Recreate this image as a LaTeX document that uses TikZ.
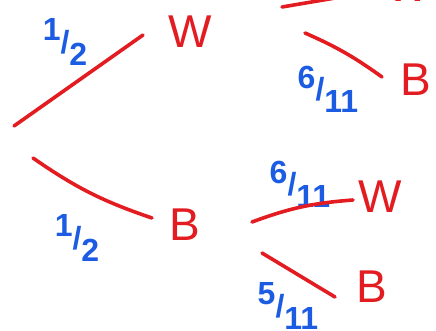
\documentclass[tikz,border=0pt]{standalone}
\usepackage{fontspec}
\setmainfont{Liberation Sans}
\usetikzlibrary{positioning}

\definecolor{inkred}{RGB}{226,28,32}
\definecolor{inkblue}{RGB}{28,92,226}
\newcommand{\slfrac}[2]{\raisebox{0.38em}{#1}/\raisebox{-0.38em}{#2}}

\begin{document}
\begin{tikzpicture}[
    x=1pt, y=-1pt,
    outcome/.style={text=inkred, font=\fontsize{46}{46}\selectfont, inner sep=0pt},
    prob/.style={text=inkblue, font=\fontsize{32}{32}\selectfont\bfseries, inner sep=0pt},
    branch/.style={draw=inkred, line width=3.6pt, line cap=round}
]
    \useasboundingbox (0,0) rectangle (436,330);

    % Outcomes
    \node[outcome] (w) at (190,32) {W};
    \node[outcome] (b) at (185,225) {B};
    \node[outcome] (ww) at (408,-14) {W};
    \node[outcome] (wb) at (416,80) {B};
    \node[outcome] (bw) at (380,197) {W};
    \node[outcome] (bb) at (372,287) {B};

    % Probabilities
    \node[prob] (pw) at (65,42) {\slfrac{1}{2}};
    \node[prob] (pb) at (77,238) {\slfrac{1}{2}};
    \node[prob] (pwb) at (328,89) {\slfrac{6}{11}};
    \node[prob] (pbw) at (300,184) {\slfrac{6}{11}};
    \node[prob] (pbb) at (288,306) {\slfrac{5}{11}};

    % Branch ends
    \coordinate (r1) at (14,126);
    \coordinate (w1) at (143,35);
    \coordinate (r2) at (33,158);
    \coordinate (b1) at (152,218);
    \coordinate (w2) at (282,7);
    \coordinate (ww1) at (335,-2);
    \coordinate (w3) at (305,33);
    \coordinate (wb1) at (382,77);
    \coordinate (b2) at (252,222);
    \coordinate (bw1) at (353,200);
    \coordinate (b3) at (262,253);
    \coordinate (bb1) at (335,297);

    % Connectors
    \draw[branch] (r1) -- (w1);
    \draw[branch] (r2) to[bend right=8] (b1);
    \draw[branch] (w2) -- (ww1);
    \draw[branch] (w3) to[bend left=6] (wb1);
    \draw[branch] (b2) to[bend left=8] (bw1);
    \draw[branch] (b3) -- (bb1);
\end{tikzpicture}
\end{document}
